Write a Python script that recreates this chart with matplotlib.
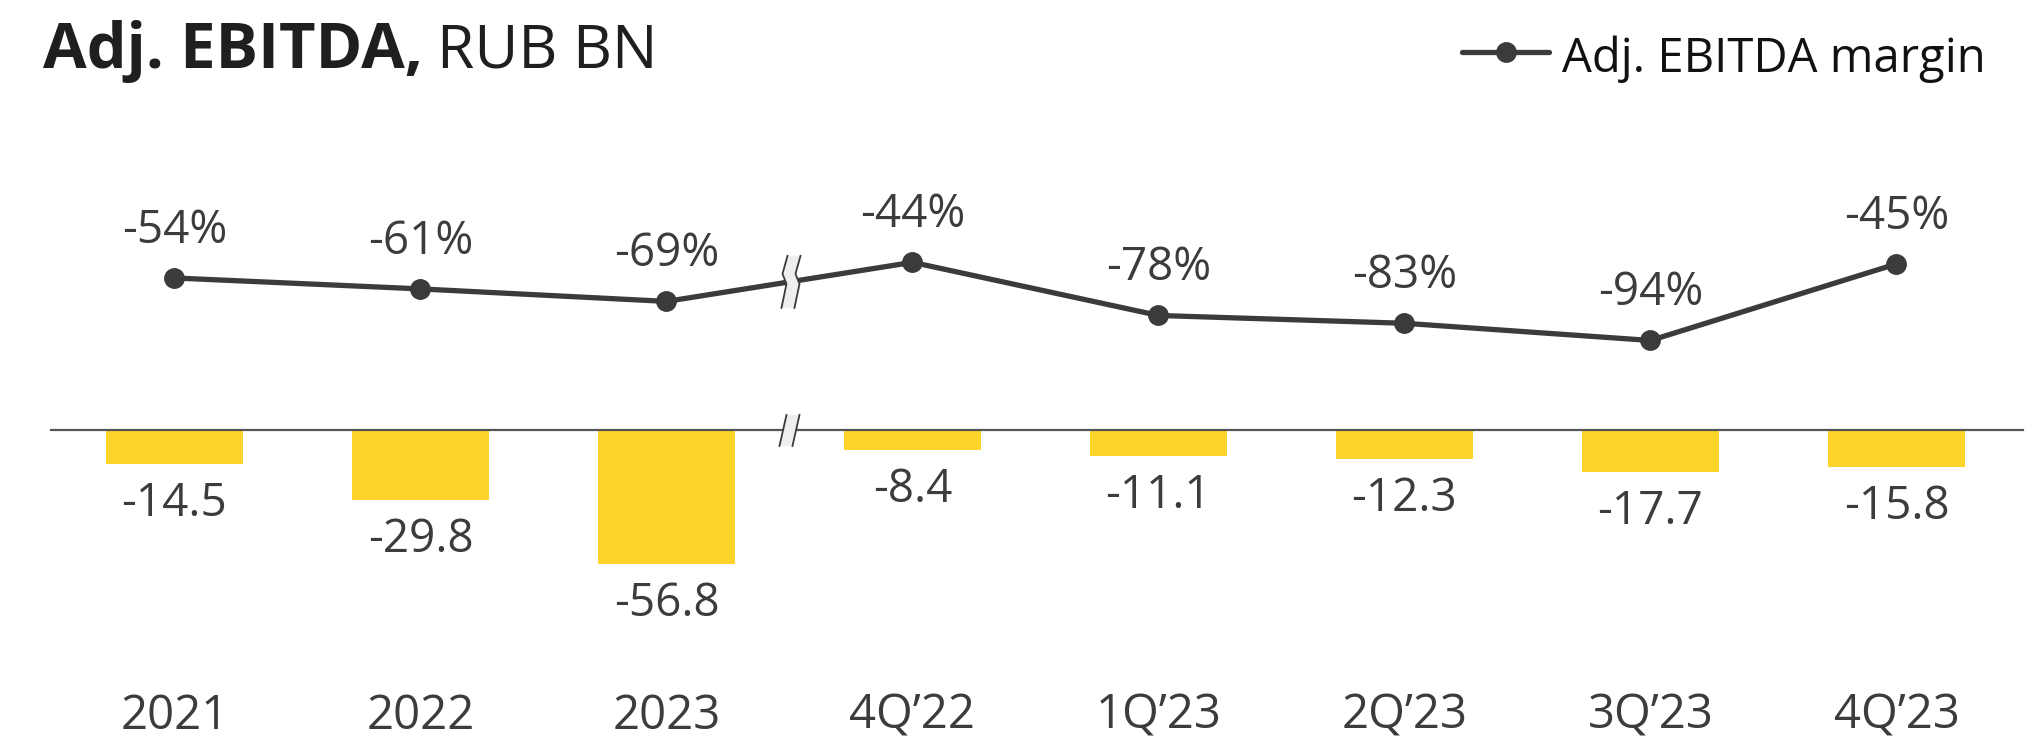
import numpy as np
import matplotlib
matplotlib.use("Agg")
import matplotlib.pyplot as plt
from matplotlib.lines import Line2D
from matplotlib.patches import Polygon

plt.rcParams['font.family'] = ['Open Sans', 'DejaVu Sans']

# data
periods = ['2021', '2022', '2023', '4Q\u201922', '1Q\u201923', '2Q\u201923', '3Q\u201923', '4Q\u201923']
ebitda = [-14.5, -29.8, -56.8, -8.4, -11.1, -12.3, -17.7, -15.8]
margin = [-54, -61, -69, -44, -78, -83, -94, -45]

YELLOW = '#FDD42A'
DARK = '#3b3b3b'
TEXT = '#3c3c3c'

W, H = 2034, 740
fig = plt.figure(figsize=(W / 100, H / 100), dpi=100)
fig.patch.set_facecolor('white')

# bars on the main axes, margin line on a twin axes
ax = fig.add_axes([0, 0, 1, 1])
ax.set_xlim(-0.7093, 7.559)
ax.set_ylim(-131.4, 182.2)
ax.axis('off')

x = np.arange(len(periods))
ax.bar(x, ebitda, width=0.557, color=YELLOW, zorder=2)

# zero line
ax.plot([-0.5, 7.515], [0, 0], color='#555555', lw=1.6, zorder=3)

for xi, v in zip(x, ebitda):
    ax.annotate(f'{v:.1f}', (xi, v), xytext=(0, -52), textcoords='offset pixels',
                ha='center', va='baseline', fontsize=33, color=TEXT)

for xi, lab in zip(x, periods):
    ax.text(xi, 0.0149, lab, transform=ax.get_xaxis_transform(),
            ha='center', va='baseline', fontsize=34, color=TEXT)

ax2 = ax.twinx()
ax2.set_ylim(-349.7, 123.9)
ax2.axis('off')
ax2.plot(x, margin, color=DARK, lw=3.8, marker='o', markersize=14, zorder=4,
         solid_capstyle='round')

for xi, v in zip(x, margin):
    ax2.annotate(f'{v}%', (xi, v), xytext=(0, 35), textcoords='offset pixels',
                 ha='center', va='baseline', fontsize=33, color=TEXT)

# break markers between annual and quarterly data
def break_mark(px, py, left_pts, gap):
    right_pts = [(dx + gap, dy) for dx, dy in left_pts]
    pts = [(px + dx, py - dy) for dx, dy in left_pts + right_pts[::-1]]
    fig.patches.append(Polygon(pts, closed=True, facecolor='#eeeeee',
                               edgecolor='none', transform=None, zorder=10))
    for side in (left_pts, right_pts):
        xs = [px + dx for dx, dy in side]
        ys = [py - dy for dx, dy in side]
        fig.lines.append(Line2D(xs, ys, color=DARK, lw=1.3, transform=None, zorder=11))

fig.canvas.draw()
mid = 2.5
line_y = np.interp(mid, x, margin)
px, py = ax2.transData.transform((mid, line_y))
break_mark(px, py, [(-2, -26), (-7, -8), (-3, 2), (-8, 26)], 13)
px, py = ax.transData.transform((mid, 0))
break_mark(px, py, [(-3, -15), (-10, 16)], 13)

# title
fig.text(43 / W, 1 - 68 / H, 'Adj. EBITDA,', fontsize=45.5, fontweight='bold',
         color='#1f1f1f', ha='left', va='baseline')
fig.text(437 / W, 1 - 68 / H, 'RUB BN', fontsize=43.5, color='#1f1f1f',
         ha='left', va='baseline')

# legend
ly = 1 - 52 / H
fig.lines.append(Line2D([1462 / W, 1549 / W], [ly, ly], color=DARK, lw=3.8,
                        solid_capstyle='round', transform=fig.transFigure))
fig.lines.append(Line2D([1506 / W], [ly], color=DARK, marker='o', markersize=14,
                        transform=fig.transFigure))
fig.text(1562 / W, 1 - 72 / H, 'Adj. EBITDA margin', fontsize=34, color='#111111',
         ha='left', va='baseline')

fig.savefig('out.png', dpi=100, facecolor='white')
